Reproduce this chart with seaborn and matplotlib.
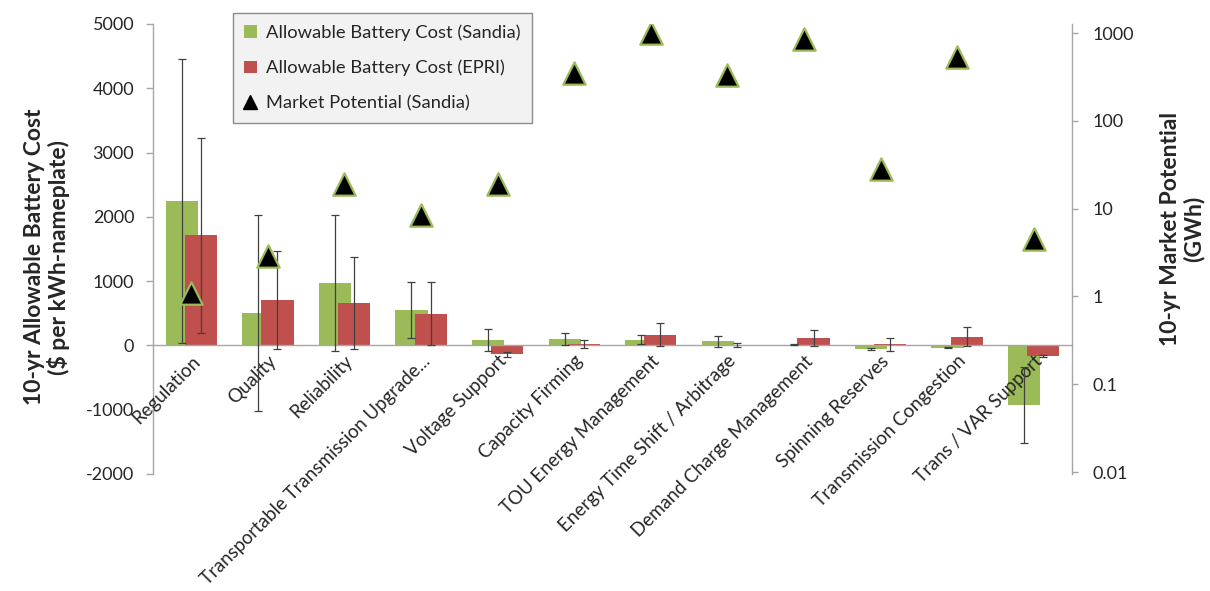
import numpy as np
import pandas as pd
import matplotlib
matplotlib.use("Agg")
import matplotlib.pyplot as plt
import seaborn as sns
from matplotlib.lines import Line2D
from matplotlib.patches import Patch
from matplotlib.ticker import FixedLocator, FixedFormatter, NullLocator

# ─── Data ────────────────────────────────────────────────────────
categories = [
    "Regulation", "Quality", "Reliability",
    "Transportable Transmission Upgrade...", "Voltage Support",
    "Capacity Firming", "TOU Energy Management",
    "Energy Time Shift / Arbitrage", "Demand Charge Management",
    "Spinning Reserves", "Transmission Congestion", "Trans / VAR Support",
]
sandia_cost = [2240, 505, 970, 550, 80, 100, 85, 62, 10, -60, -35, -925]
sandia_err = [2210, 1520, 1055, 440, 170, 100, 70, 80, 10, 18, 10, 595]
epri_cost = [1710, 710, 655, 490, -140, 25, 165, 10, 120, 20, 135, -165]
epri_err = [1510, 760, 715, 490, 40, 60, 180, 35, 125, 100, 145, 15]
market_potential = [1.1, 2.9, 19, 8.5, 19, 350, 1000, 330, 850, 28, 530, 4.5]

cost_ticks = [-2000, -1000, 0, 1000, 2000, 3000, 4000, 5000]
mp_ticks = [0.01, 0.1, 1, 10, 100, 1000]
mp_labels = ["0.01", "0.1", "1", "10", "100", "1000"]

GREEN = "#9BBB59"
RED = "#C0504D"
AXIS_GRAY = "#A6A6A6"

sns.set_style("white")
plt.rcParams["font.family"] = ["Lato", "DejaVu Sans"]

df = pd.DataFrame({
    "category": categories * 2,
    "source": ["Sandia"] * len(categories) + ["EPRI"] * len(categories),
    "cost": sandia_cost + epri_cost,
})

fig = plt.figure(figsize=(12.1, 5.91), dpi=100)
ax = fig.add_axes([153 / 1210, 1 - 474 / 591, 919 / 1210, 450 / 591])

sns.barplot(
    data=df, x="category", y="cost", hue="source",
    palette=[GREEN, RED], saturation=1, errorbar=None,
    legend=False, ax=ax, zorder=1,
)

# Excel-style overlapping bars: reposition each series
bar_w = 0.42
offsets = [-0.125, 0.125]
errs = [sandia_err, epri_err]
for container, off, err in zip(ax.containers, offsets, errs):
    xs, ys = [], []
    for i, patch in enumerate(container):
        patch.set_width(bar_w)
        patch.set_x(i + off - bar_w / 2)
        patch.set_edgecolor("none")
        xs.append(i + off)
        ys.append(patch.get_height())
    ax.errorbar(xs, ys, yerr=err, fmt="none", ecolor="#404040",
                elinewidth=0.9, capsize=3, capthick=0.9, zorder=3)

ax.set_axisbelow(False)
ax.set_ylim(-2000, 5000)
ax.set_xlim(-0.5, len(categories) - 0.5)
ax.set_yticks(cost_ticks)
ax.set_yticklabels([str(t) for t in cost_ticks])
ax.set_xlabel("")
ax.set_ylabel("10-yr Allowable Battery Cost\n($ per kWh-nameplate)",
              fontsize=16.5, fontweight="bold", linespacing=1.1)
ax.yaxis.set_label_coords(-0.090, 0.482)

# category axis sits at y=0, ticks between categories
ax.spines["bottom"].set_position(("data", 0))
ax.set_xticks(np.arange(-0.5, len(categories), 1))
ax.set_xticklabels([""] * (len(categories) + 1))
ax.set_xticks(np.arange(len(categories)), minor=True)
ax.set_xticklabels(categories, minor=True, rotation=45, ha="right",
                   rotation_mode="anchor", fontsize=13.5)
ax.tick_params(axis="x", which="major", length=6, width=1,
               color=AXIS_GRAY, direction="out")
ax.tick_params(axis="x", which="minor", length=0, pad=5)
ax.tick_params(axis="y", length=5, width=1, color=AXIS_GRAY,
               direction="out", labelsize=13, pad=8.5, left=True)
for side in ["top", "right"]:
    ax.spines[side].set_visible(False)
for side in ["left", "bottom"]:
    ax.spines[side].set_color(AXIS_GRAY)
    ax.spines[side].set_linewidth(1)

# ─── Market potential on log secondary axis ─────────────────────
ax2 = ax.twinx()
mp_df = pd.DataFrame({"pos": np.arange(len(categories)),
                      "mp": market_potential})
sns.scatterplot(data=mp_df, x="pos", y="mp", marker="^", s=260,
                color="black", edgecolor=GREEN, linewidth=1.6,
                legend=False, ax=ax2, zorder=4)
ax2.set_yscale("log")
ax2.set_ylim(0.0095, 1270)
ax2.yaxis.set_major_locator(FixedLocator(mp_ticks))
ax2.yaxis.set_major_formatter(FixedFormatter(mp_labels))
ax2.yaxis.set_minor_locator(NullLocator())
ax2.tick_params(axis="y", length=4.5, width=1, color=AXIS_GRAY,
                direction="out", labelsize=13, pad=10, right=True)
ax2.set_ylabel("10-yr Market Potential\n(GWh)", fontsize=16.5,
               fontweight="bold", linespacing=1.1)
ax2.yaxis.set_label_coords(1.0958, 0.544)
for side in ["top", "left", "bottom"]:
    ax2.spines[side].set_visible(False)
ax2.spines["right"].set_color(AXIS_GRAY)
ax2.spines["right"].set_linewidth(1)
ax.set_xlim(-0.5, len(categories) - 0.5)

handles = [
    Patch(facecolor=GREEN, edgecolor="none"),
    Patch(facecolor=RED, edgecolor="none"),
    Line2D([], [], marker="^", color="black", linestyle="none",
           markersize=10),
]
labels = ["Allowable Battery Cost (Sandia)",
          "Allowable Battery Cost (EPRI)",
          "Market Potential (Sandia)"]
fig.legend(handles, labels, loc="upper left",
           bbox_to_anchor=(233 / 1210, 1 - 13 / 591), borderaxespad=0,
           frameon=True, fancybox=False, framealpha=1,
           facecolor="#F2F2F2", edgecolor="#8C8C8C", fontsize=13.2,
           handlelength=0.7, handleheight=0.7, labelspacing=1.05,
           borderpad=0.6, handletextpad=0.5)

fig.savefig("out.png", dpi=100)
